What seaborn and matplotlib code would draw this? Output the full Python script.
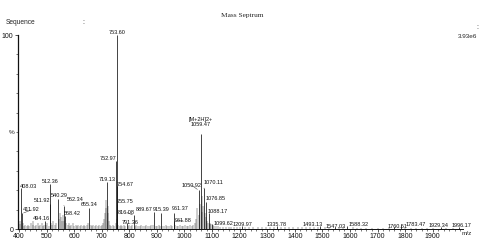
import numpy as np
import pandas as pd
import matplotlib
matplotlib.use("Agg")
import matplotlib.pyplot as plt
from matplotlib.ticker import MultipleLocator
import seaborn as sns

# picos etiquetados: m/z e intensidad relativa (%)
peak_mz = [408.03, 411.92, 494.16, 511.92, 512.36, 540.29, 562.34, 568.42,
           655.34, 719.13, 752.97, 753.60, 754.67, 755.75, 791.36, 816.08,
           889.67, 915.39, 961.37, 961.88, 1059.47, 1050.92, 1070.11, 1076.85,
           1088.17, 1099.62, 1209.97, 1335.78, 1493.13, 1547.03, 1588.32,
           1760.51, 1783.47, 1929.34, 1996.17]
peak_int = [21, 8, 4, 13, 23, 15.5, 12, 6.5,
            11, 24, 35, 100, 22, 13, 3, 7,
            9, 8.5, 8, 4, 49, 20, 21, 14,
            8, 2.5, 1.5, 1.5, 1.5, 1, 1.5,
            1, 2, 0.8, 0.8]
peak_text = ["408.03", "411.92", "494.16", "511.92", "512.36", "540.29", "562.34", "568.42",
             "655.34", "719.13", "752.97", "753.60", "754.67", "755.75", "791.36", "816.08",
             "889.67", "915.39", "961.37", "961.88", "[M+2H]2+\n1059.47", "1050.92", "1070.11",
             "1076.85", "1088.17", "1099.62", "1209.97", "1335.78", "1493.13", "1547.03",
             "1588.32", "1760.51", "1783.47", "1929.34", "1996.17"]

# ruido / picos menores sin etiqueta
minor_mz = [402, 405, 414, 418, 423, 428, 433, 438, 443, 449, 452, 457, 462, 468, 472,
            477, 482, 487, 490, 498, 503, 507, 516, 520, 525, 530, 535, 544, 548, 551,
            555, 558, 565, 572, 576, 580, 585, 590, 596, 600, 605, 610, 615, 620, 626,
            631, 636, 641, 646, 650, 660, 665, 670, 676, 681, 686, 691, 696, 701, 706,
            710, 713, 715, 717, 721, 723, 726, 730, 735, 740, 745, 750, 757, 760, 765,
            770, 775, 780, 785, 795, 800, 806, 811, 821, 826, 832, 838, 844, 850, 856,
            862, 868, 874, 880, 885, 895, 900, 906, 911, 920, 926, 932, 938, 944, 950,
            956, 966, 972, 978, 984, 990, 996, 1002, 1008, 1014, 1020, 1026, 1032, 1038,
            1043, 1047, 1053, 1056, 1062, 1065, 1067, 1073, 1079, 1082, 1085, 1091, 1094,
            1097, 1103, 1108, 1114, 1120, 1130, 1140, 1150, 1160, 1170, 1180, 1190, 1200,
            1220, 1235, 1250, 1265, 1280, 1295, 1310, 1325, 1350, 1365, 1380, 1395, 1410,
            1425, 1440, 1455, 1470, 1485, 1510, 1525, 1560, 1575, 1610, 1625, 1640, 1660,
            1680, 1700, 1720, 1740, 1800, 1820, 1840, 1860, 1880, 1900, 1950, 1975]
minor_int = [2.5, 4, 3, 1.5, 2, 1.5, 2, 1.5, 3, 2, 4, 1.5, 2, 3, 1.5,
             2, 3, 1.5, 2, 2, 3, 1.5, 3, 2, 4, 2, 3, 5, 8, 6,
             4, 7, 4, 3, 2, 3, 1.5, 2, 3, 1.5, 2, 1.5, 2, 1.5, 2,
             1.5, 2, 1.5, 2, 3, 2, 1.5, 2, 1.5, 2, 1.5, 2, 1.5, 2, 3,
             5, 8, 11, 15, 12, 8, 4, 2, 1.5, 2, 1.5, 3, 5, 2, 1.5,
             2, 1.5, 2, 1.5, 1.5, 2, 1.5, 2, 1.5, 2, 1.5, 1.5, 2, 1.5, 1.5,
             2, 1.5, 1.5, 2, 2, 1.5, 1.5, 2, 1.5, 1.5, 1.5, 2, 1.5, 1.5, 2,
             1.5, 2, 1.5, 1.5, 2, 1.5, 1.5, 2, 1.5, 1.5, 2, 1.5, 2, 3,
             5, 11, 7, 13, 17, 9, 12, 8, 6, 4, 3, 3, 2.5,
             2.5, 2, 1.5, 1.5, 1.5, 1.2, 1.2, 1, 1.2, 1, 1, 1.2, 1,
             1, 1, 1, 1, 1, 1, 1, 1, 1, 0.8, 0.8, 1, 0.8,
             0.8, 0.8, 1, 0.8, 0.8, 0.8, 0.8, 0.8, 0.8, 0.8, 0.6, 0.6, 0.6,
             0.6, 0.6, 0.6, 0.6, 0.6, 0.6, 0.5, 0.5, 0.5, 0.5, 0.5, 0.5]

# desplazamiento de etiquetas (pixeles) y lineas guia
label_dx = [7, 9, -4, -8, 0, 2, 11, 7,
            0, 0, -8, 1, 8, 8, 3, -7,
            -10, 0, 6, 9, 0, -7, 10, 10,
            9, 12, 0, 0, -8, 0, 12,
            3, 15, -2, 2]
label_dy = [2, 3.5, 3, 3, 3, 3, 6, 3,
            3, 3, 3, 3, 2, 2, 1, 3,
            2, 3.5, 4.5, 1, 12, 5, 6, 3,
            2, 1, 2, 2, 2, 1, 2,
            1, 1, 2, 2]
leader = ["411.92", "562.34", "816.08", "961.88", "1050.92", "1070.11"]

peaks = pd.DataFrame({"mz": peak_mz, "intensity": peak_int, "label": peak_text,
                      "dx": label_dx, "dy": label_dy})
minor = pd.DataFrame({"mz": minor_mz, "intensity": minor_int})

sns.set_style("ticks")
plt.rcParams["font.family"] = ["Liberation Sans", "DejaVu Sans"]

fig = plt.figure(figsize=(4.92, 2.5), dpi=100)
ax = fig.add_axes([0.0358, 0.084, 0.9053, 0.776])

ax.vlines(minor["mz"], 0, minor["intensity"], color="#3a3a3a", lw=0.35)
ax.vlines(peaks["mz"], 0, peaks["intensity"], color="#111111", lw=0.55)

for _, r in peaks.iterrows():
    kw = {}
    if r["label"] in leader:
        kw["arrowprops"] = dict(arrowstyle="-", lw=0.35, color="#333333", shrinkA=0, shrinkB=1)
    ax.annotate(r["label"], xy=(r["mz"], r["intensity"]), xytext=(r["dx"], r["dy"]),
                textcoords="offset pixels", ha="center", va="center",
                fontsize=4, color="#111111", linespacing=1.1, **kw)

ax.set_xlim(395, 2010)
ax.set_ylim(0, 100)
ax.set_xticks(range(400, 2000, 100))
ax.xaxis.set_minor_locator(MultipleLocator(20))
ax.set_yticks([0, 100])
ax.yaxis.set_minor_locator(MultipleLocator(10))
ax.tick_params(axis="both", which="major", labelsize=5, length=2, width=0.5, pad=1,
               colors="#111111")
ax.tick_params(axis="both", which="minor", length=1.2, width=0.4, colors="#111111")
ax.spines["left"].set_linewidth(0.9)
ax.spines["bottom"].set_linewidth(0.7)
for s in ["left", "bottom"]:
    ax.spines[s].set_color("#111111")
sns.despine(ax=ax)
ax.set_xlabel("")
ax.set_ylabel("")

fig.text(0.492, 0.94, "Mass Septrum", ha="center", va="center", fontsize=5.3,
         family=["Liberation Serif", "DejaVu Serif"])
fig.text(0.012, 0.91, "Sequence", ha="left", va="center", fontsize=4.8)
fig.text(0.169, 0.91, ":", ha="center", va="center", fontsize=5)
fig.text(0.97, 0.89, ":", ha="center", va="center", fontsize=5)
fig.text(0.97, 0.852, "3.93e6", ha="right", va="center", fontsize=4.6)
fig.text(0.024, 0.472, "%", ha="center", va="center", fontsize=4.6)
fig.text(0.949, 0.066, "m/z", ha="center", va="center", fontsize=4.6)

fig.savefig("out.png", dpi=100)
